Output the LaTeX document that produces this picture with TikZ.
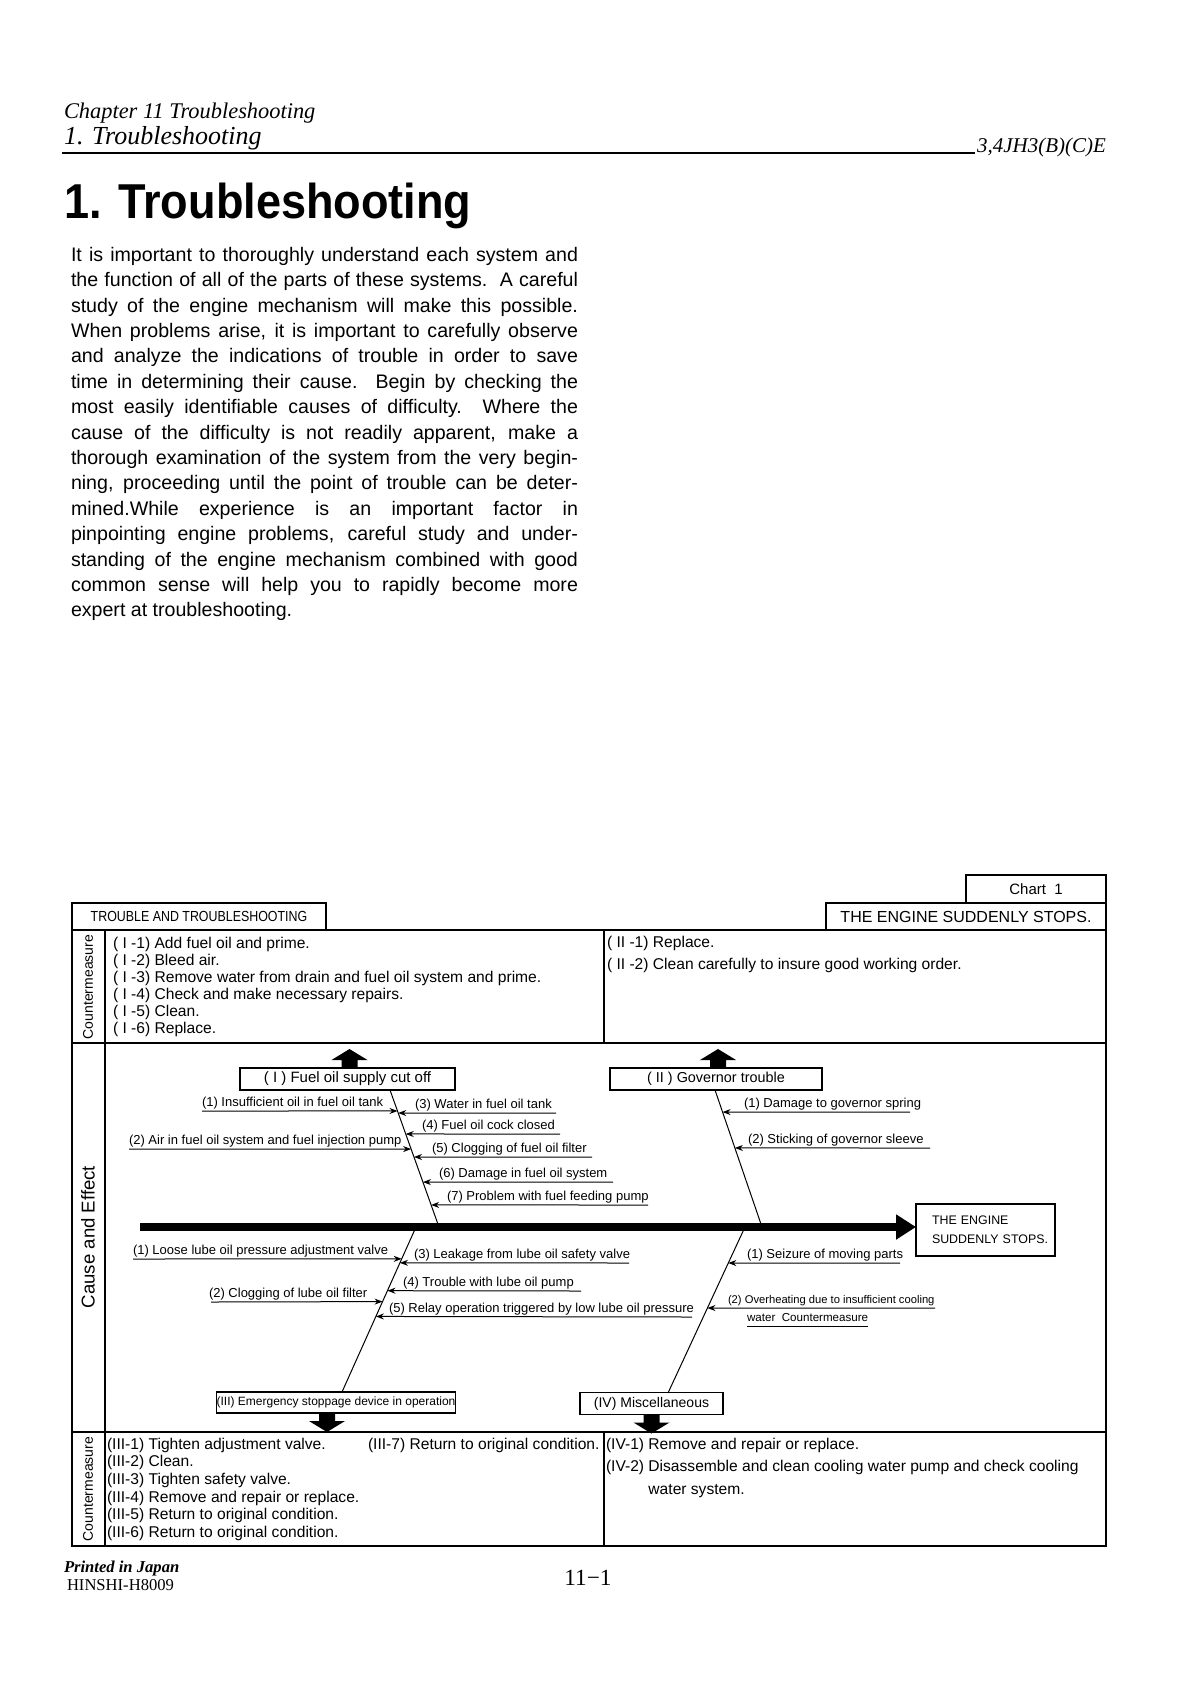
\documentclass[tikz,border=0pt]{standalone}
\usepackage{fontspec}
\setmainfont{Liberation Serif}
\newfontfamily\sans{Liberation Sans}
\usetikzlibrary{arrows.meta,calc}
\newcommand\cause[7]{%
  \coordinate (#1f) at (#5,#4);
  \coordinate (#1t) at ($(#2t)!#3!(#2b)$);
  \node[causetxt] (#1) at (#6,#4-5) {#7};
  \draw[causearrow] (#1f) -- (#1t);
}
\newcommand\uparr[2]{\fill ($(#1)+(#2-8,0)$) -- ++(0,-8) -- ++(-10,0) -- ++(18,-11) -- ++(18,11) -- ++(-10,0) -- ++(0,8) -- cycle;}
\newcommand\downarr[2]{\fill ($(#1)+(#2-8,0)$) -- ++(0,8) -- ++(-10,0) -- ++(18,11) -- ++(18,-11) -- ++(-10,0) -- ++(0,-8) -- cycle;}
\begin{document}
\begin{tikzpicture}[x=0.5pt,y=-0.5pt,
  every node/.style={inner sep=0pt, outer sep=0pt},
  frameline/.style={line width=0.7pt},
  cmtext/.style={font=\sans\fontsize{7.8}{8.5}\selectfont, align=left, anchor=north west},
  causetxt/.style={font=\sans\fontsize{6.5}{7}\selectfont, anchor=base west},
  causearrow/.style={line width=0.5pt, -{Stealth[length=4pt,width=3pt]}},
  bone/.style={line width=0.5pt},
  catbox/.style={draw, line width=0.6pt, minimum height=11pt},
  tabbox/.style={draw, line width=0.7pt, minimum height=13.5pt},
  vlab/.style={rotate=90, font=\sans\fontsize{7}{8}\selectfont},
]
\fill[white] (0,0) rectangle (1198,1683);
\useasboundingbox (0,0) rectangle (1198,1683);

% header
\node[anchor=base west, font=\itshape\fontsize{11.2}{13}\selectfont] (chap) at (64,118) {Chapter 11 Troubleshooting};
\node[anchor=base west, font=\itshape\fontsize{13}{15}\selectfont] (sec) at (64,144) {1. Troubleshooting};
\coordinate (ruleL) at (62,153);
\coordinate (ruleR) at (975,153);
\draw[line width=1.4pt] (ruleL) -- (ruleR);
\node[anchor=base east, font=\itshape\fontsize{10.5}{12}\selectfont] (model) at (1106,152) {3,4JH3(B)(C)E};

% title
\node[anchor=base west, font=\sans\bfseries\fontsize{24.5}{28}\selectfont] (title) at (64,218) {\scalebox{0.92}[1]{1. Troubleshooting}};

% paragraph
\node[anchor=north west, text width=253.5pt, align=justify, font=\sans\fontsize{9.8}{12.7}\selectfont] (para) at (71,247) {\noindent It is important to thoroughly understand each system and\linebreak
the function of all of the parts of these systems.\ \ A careful\linebreak
study of the engine mechanism will make this possible.\linebreak
When problems arise, it is important to carefully observe\linebreak
and analyze the indications of trouble in order to save\linebreak
time in determining their cause.\ \ Begin by checking the\linebreak
most easily identifiable causes of difficulty.\ \ Where the\linebreak
cause of the difficulty is not readily apparent, make a\linebreak
thorough examination of the system from the very begin-\linebreak
ning, proceeding until the point of trouble can be deter-\linebreak
mined.While experience is an important factor in\linebreak
pinpointing engine problems, careful study and under-\linebreak
standing of the engine mechanism combined with good\linebreak
common sense will help you to rapidly become more\linebreak
expert at troubleshooting.};

% chart tabs
\node[tabbox, minimum width=70pt, minimum height=14pt, font=\sans\fontsize{7.5}{8}\selectfont] (chart) at (1036,889) {Chart\ \ 1};
\node[tabbox, minimum width=140pt, font=\sans\fontsize{8}{9}\selectfont] (stops) at (966,916.5) {THE ENGINE SUDDENLY STOPS.};
\node[tabbox, minimum width=127pt, font=\sans\fontsize{7.3}{8}\selectfont] (tt) at (199,916.5) {\scalebox{0.85}[1]{TROUBLE AND TROUBLESHOOTING}};

% table frame
\draw[frameline] (72,930) rectangle (1106,1546);
\draw[frameline] (105,930) -- (105,1546);
\draw[frameline] (72,1043) -- (1106,1043);
\draw[frameline] (72,1432) -- (1106,1432);
\draw[frameline] (604,930) -- (604,1043);
\draw[frameline] (604,1432) -- (604,1546);

% side labels
\node[vlab] (cmlab1) at (88,987) {Countermeasure};
\node[vlab, font=\sans\fontsize{9.3}{10}\selectfont] (celab) at (88,1237) {Cause and Effect};
\node[vlab] (cmlab2) at (88,1489) {Countermeasure};

% countermeasures
\node[cmtext] (cmI) at (113,937) {( I -1) Add fuel oil and prime.\\( I -2) Bleed air.\\( I -3) Remove water from drain and fuel oil system and prime.\\( I -4) Check and make necessary repairs.\\( I -5) Clean.\\( I -6) Replace.};
\node[cmtext, font=\sans\fontsize{7.8}{11}\selectfont] (cmII) at (607,936) {( II -1) Replace.\\( II -2) Clean carefully to insure good working order.};
\node[cmtext, font=\sans\fontsize{7.8}{8.8}\selectfont] (cmIII) at (107,1438) {(III-1) Tighten adjustment valve.\\(III-2) Clean.\\(III-3) Tighten safety valve.\\(III-4) Remove and repair or replace.\\(III-5) Return to original condition.\\(III-6) Return to original condition.};
\node[cmtext] (cmIIIb) at (368,1438) {(III-7) Return to original condition.};
\node[cmtext, font=\sans\fontsize{7.8}{11.2}\selectfont] (cmIV) at (606,1438) {(IV-1) Remove and repair or replace.\\(IV-2) Disassemble and clean cooling water pump and check cooling\\\phantom{(IV-2)\ }water system.};

% effect and spine
\node[draw, line width=0.6pt, minimum height=26pt, text width=65pt, inner xsep=2.25pt, align=left, font=\sans\fontsize{6.2}{9.5}\selectfont] (effect) at (985.5,1230) {\hspace*{5.75pt}THE ENGINE\\\hspace*{5.75pt}SUDDENLY STOPS.};
\coordinate (spineL) at (140,1227);
\draw[line width=3.6pt, -{Triangle[length=10pt,width=12pt]}] (spineL) -- (spineL -| effect.west);

% category boxes
\node[catbox, minimum width=107.5pt, font=\sans\fontsize{7.5}{8}\selectfont] (cat1) at (347.5,1079) {( I ) Fuel oil supply cut off};
\node[catbox, minimum width=106pt, font=\sans\fontsize{7.2}{8}\selectfont] (cat2) at (716,1079) {( II ) Governor trouble};
\node[catbox, minimum width=119pt, minimum height=10.5pt, font=\sans\fontsize{6}{7}\selectfont] (cat3) at (336,1402.5) {(III) Emergency stoppage device in operation};
\node[catbox, minimum width=71.5pt, font=\sans\fontsize{7}{8}\selectfont] (cat4) at (651.5,1403.5) {(IV) Miscellaneous};
\uparr{cat1.north}{2}
\uparr{cat2.north}{2}
\downarr{cat3.south}{-9}
\downarr{cat4.south}{0}

% bones
\coordinate (b1t) at (390,1090); \coordinate (b1b) at (439,1227);
\coordinate (b2t) at (715,1090); \coordinate (b2b) at (762,1227);
\coordinate (b3t) at (416,1227); \coordinate (b3b) at (342,1392);
\coordinate (b4t) at (745,1227); \coordinate (b4b) at (668,1393);
\draw[bone] (b1t) -- (b1b);
\draw[bone] (b2t) -- (b2b);
\draw[bone] (b3t) -- (b3b);
\draw[bone] (b4t) -- (b4b);

% causes
\cause{c11}{b1}{0.153}{1111}{202}{202}{(1) Insufficient oil in fuel oil tank}
\cause{c12}{b1}{0.431}{1149}{129}{129}{(2) Air in fuel oil system and fuel injection pump}
\cause{c13}{b1}{0.168}{1113}{556}{415}{(3) Water in fuel oil tank}
\cause{c14}{b1}{0.321}{1134}{560}{422}{(4) Fuel oil cock closed}
\cause{c15}{b1}{0.489}{1157}{592}{432}{(5) Clogging of fuel oil filter}
\cause{c16}{b1}{0.672}{1182}{613}{439}{(6) Damage in fuel oil system}
\cause{c17}{b1}{0.839}{1205}{648}{447}{(7) Problem with fuel feeding pump}
\cause{c21}{b2}{0.161}{1112}{910}{744}{(1) Damage to governor spring}
\cause{c22}{b2}{0.423}{1148}{930}{748}{(2) Sticking of governor sleeve}
\cause{c31}{b3}{0.193}{1259}{133}{133}{(1) Loose lube oil pressure adjustment valve}
\cause{c32}{b3}{0.452}{1302}{211}{209}{(2) Clogging of lube oil filter}
\cause{c33}{b3}{0.217}{1263}{629}{414}{(3) Leakage from lube oil safety valve}
\cause{c34}{b3}{0.386}{1291}{581}{403}{(4) Trouble with lube oil pump}
\cause{c35}{b3}{0.542}{1317}{692}{389}{(5) Relay operation triggered by low lube oil pressure}
\cause{c41}{b4}{0.217}{1263}{900}{747}{(1) Seizure of moving parts}
\cause{c42}{b4}{0.488}{1308}{935}{728}{\fontsize{5.6}{6}\selectfont (2) Overheating due to insufficient cooling}
\coordinate (wcL) at (747,1326);
\coordinate (wcR) at (868,1326);
\node[causetxt, font=\sans\fontsize{5.8}{6}\selectfont] (wc) at (747,1321) {water\ \ Countermeasure};
\draw[line width=0.5pt] (wcL) -- (wcR);

% footer
\node[anchor=base west, font=\bfseries\itshape\fontsize{8.3}{10}\selectfont] (printed) at (64,1572) {Printed in Japan};
\node[anchor=base west, font=\fontsize{8.3}{10}\selectfont] (hinshi) at (67,1590) {HINSHI-H8009};
\node[anchor=base, font=\fontsize{11.6}{13}\selectfont] (pgno) at (588,1585) {11−1};
\end{tikzpicture}
\end{document}
